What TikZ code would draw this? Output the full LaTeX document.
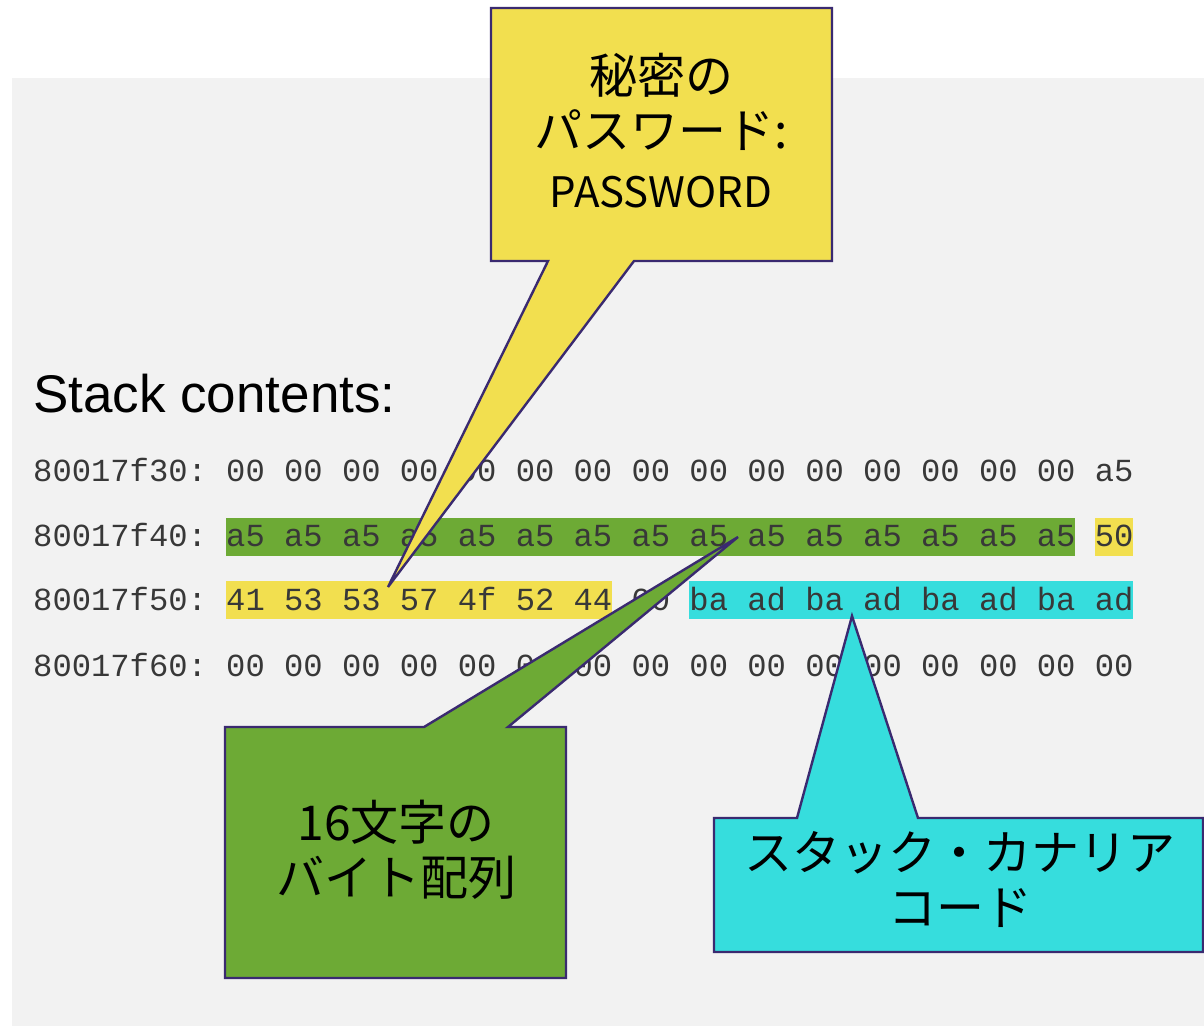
\documentclass[tikz,border=0pt]{standalone}
\usepackage{fontspec}
\setmainfont{Liberation Sans}
\newfontfamily\hexfont{Liberation Mono}
\newfontfamily\jpfont{Noto Sans CJK JP}

\definecolor{panelgray}{HTML}{F2F2F2}
\definecolor{calloutline}{HTML}{3A2A70}
\definecolor{pwyellow}{HTML}{F2DF4F}
\definecolor{bytegreen}{HTML}{6DAA35}
\definecolor{canarycyan}{HTML}{36DDDD}

\begin{document}
\frenchspacing
\begin{tikzpicture}[x=1pt,y=-1pt,
  hexrow/.style={anchor=base west,inner sep=0pt,font=\frenchspacing\hexfont\fontsize{32.17}{38}\selectfont,text=black!78},
  callout/.style={draw=calloutline,line width=2.4pt,line join=miter},
  calltext/.style={align=center,inner sep=0pt,font=\jpfont\fontsize{48}{55}\selectfont},
]
\useasboundingbox (0,0) rectangle (1204,1026);
\fill[white] (0,0) rectangle (1204,1026);
% grey slide panel
\fill[panelgray] (12,78) rectangle (1204,1026);

% heading
\node[anchor=base west,inner sep=0pt,font=\fontsize{53}{60}\selectfont] (title) at (33,412) {Stack contents:};

% byte highlights (character cell = 19.3 wide, data starts at column 10)
\fill[bytegreen]   (226,518) rectangle (1075.2,556);
\fill[pwyellow]    (1094.5,518) rectangle (1133.1,556);
\fill[pwyellow]    (226,581) rectangle (612,619);
\fill[canarycyan]  (689.2,581) rectangle (1133.1,619);

% memory dump
\node[hexrow] (r30) at (33,481) {80017f30: 00 00 00 00 00 00 00 00 00 00 00 00 00 00 00 a5};
\node[hexrow] (r40) at (33,546) {80017f40: a5 a5 a5 a5 a5 a5 a5 a5 a5 a5 a5 a5 a5 a5 a5 50};
\node[hexrow] (r50) at (33,610) {80017f50: 41 53 53 57 4f 52 44 00 ba ad ba ad ba ad ba ad};
\node[hexrow] (r60) at (33,676) {80017f60: 00 00 00 00 00 00 00 00 00 00 00 00 00 00 00 00};

% callout tips
\coordinate (pwtip) at (388,587);
\coordinate (arrtip) at (738,537);
\coordinate (cantip) at (852,616);

% password callout
\draw[callout,fill=pwyellow] (491,8) -- (832,8) -- (832,261) -- (634,261) -- (pwtip) -- (548,261) -- (491,261) -- cycle;
\node[calltext] (pwtext) at (661,131) {秘密の\\パスワード:\\[4pt]{\fontsize{42}{50}\selectfont PASSWORD}};

% byte array callout
\draw[callout,fill=bytegreen] (225,727) -- (424,727) -- (arrtip) -- (508,727) -- (566,727) -- (566,978) -- (225,978) -- cycle;
\node[calltext] (arrtext) at (396,850) {16文字の\\バイト配列};

% canary callout
\draw[callout,fill=canarycyan] (714,818) -- (797,818) -- (cantip) -- (918,818) -- (1203,818) -- (1203,952) -- (714,952) -- cycle;
\node[calltext] (cantext) at (960,879) {スタック・カナリア\\コード};
\end{tikzpicture}
\end{document}
